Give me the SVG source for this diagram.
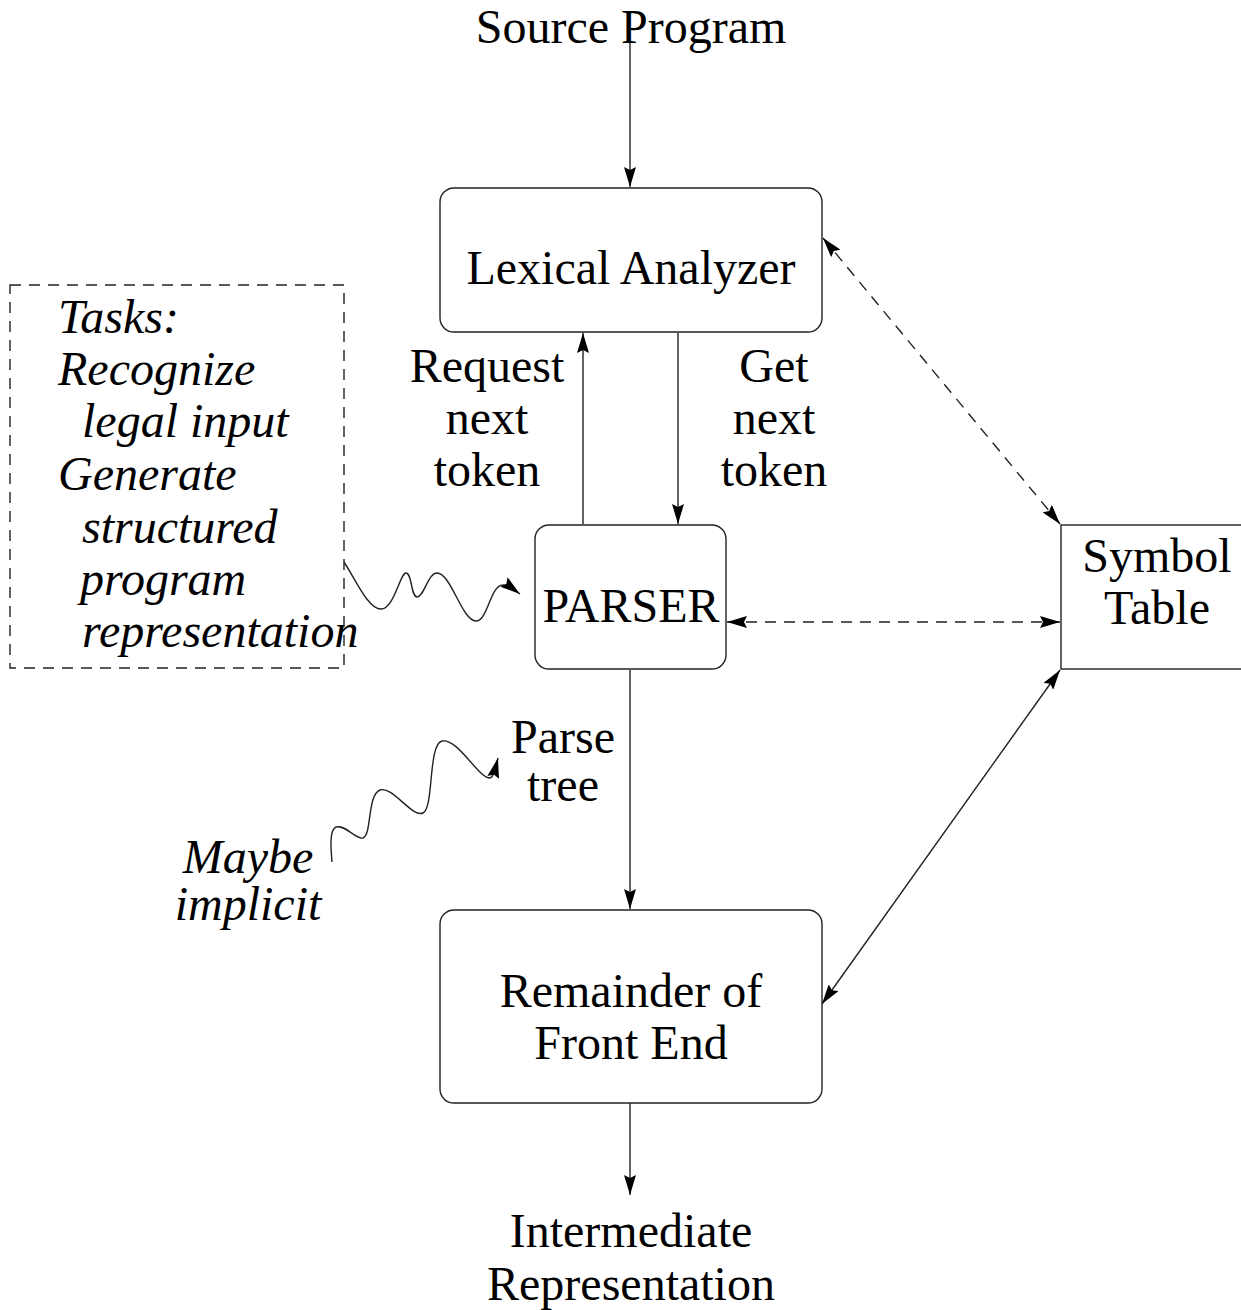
<svg xmlns="http://www.w3.org/2000/svg" width="1241" height="1310" viewBox="0 0 1241 1310">
<style>
text{font-family:"Liberation Serif","Times New Roman",serif;font-size:48px;fill:#000}
.c{text-anchor:middle}
.i{font-style:italic}
.box{fill:#fff;stroke:#222;stroke-width:1.4}
.ln{fill:none;stroke:#222;stroke-width:1.4}
.d{stroke-dasharray:11 8}
</style>
<defs>
<marker id="ah" markerUnits="userSpaceOnUse" markerWidth="22" markerHeight="12" refX="20" refY="6" orient="auto-start-reverse" viewBox="0 0 22 12">
<path d="M0,0 L20,6 L0,12 L3,6 z" fill="#000"/>
</marker>
</defs>
<g id="tasks">
<rect x="10" y="285" width="334" height="383" class="ln d" stroke-dasharray="8 7"/>
<text class="i" x="58" y="333">Tasks:</text>
<text class="i" x="58" y="385">Recognize</text>
<text class="i" x="82" y="437">legal input</text>
<text class="i" x="58" y="490">Generate</text>
<text class="i" x="82" y="543">structured</text>
<text class="i" x="80" y="595">program</text>
<text class="i" x="82" y="647">representation</text>
</g>
<g id="connectors">
<line x1="630" y1="42" x2="630" y2="187" class="ln" marker-end="url(#ah)"/>
<line x1="583" y1="524" x2="583" y2="333" class="ln" marker-end="url(#ah)"/>
<line x1="678" y1="333" x2="678" y2="524" class="ln" marker-end="url(#ah)"/>
<line x1="630" y1="670" x2="630" y2="909" class="ln" marker-end="url(#ah)"/>
<line x1="630" y1="1103" x2="630" y2="1195" class="ln" marker-end="url(#ah)"/>
<line x1="823" y1="238" x2="1060" y2="524" class="ln d" marker-start="url(#ah)" marker-end="url(#ah)"/>
<line x1="727" y1="622" x2="1060" y2="622" class="ln d" marker-start="url(#ah)" marker-end="url(#ah)"/>
<line x1="822" y1="1004" x2="1060" y2="670" class="ln" marker-start="url(#ah)" marker-end="url(#ah)"/>
<path d="M344,562 C356,580 368,609 381,609 C394,609 400,573 406,573 C412,573 411,597 417,597 C424,597 428,573 437,573 C451,573 462,621 476,621 C488,621 490,585 503,585 C507,585 512,588 520,594" class="ln" marker-end="url(#ah)"/>
<path d="M332,862 C331,850 329,830 336,827 C345,824 356,840 363,838 C372,835 367,795 380,790 C393,786 412,818 423,813 C434,808 428,744 442,741 C458,738 478,778 490,778 C493,778 495,770 498,758" class="ln" marker-end="url(#ah)"/>
</g>
<g id="lexical">
<rect x="440" y="188" width="382" height="144" rx="14" class="box"/>
<text class="c" x="631" y="284">Lexical Analyzer</text>
</g>
<g id="parser">
<rect x="535" y="525" width="191" height="144" rx="14" class="box"/>
<text class="c" x="631" y="622">PARSER</text>
</g>
<g id="symbol">
<rect x="1061" y="525" width="190" height="144" class="box"/>
<text class="c" x="1157" y="572">Symbol</text>
<text class="c" x="1157" y="624">Table</text>
</g>
<g id="remainder">
<rect x="440" y="910" width="382" height="193" rx="14" class="box"/>
<text class="c" x="631" y="1007">Remainder of</text>
<text class="c" x="631" y="1059">Front End</text>
</g>
<g id="labels">
<text class="c" x="631" y="43">Source Program</text>
<text class="c" x="487" y="382">Request</text>
<text class="c" x="487" y="434">next</text>
<text class="c" x="487" y="486">token</text>
<text class="c" x="774" y="382">Get</text>
<text class="c" x="774" y="434">next</text>
<text class="c" x="774" y="486">token</text>
<text class="c" x="563" y="753">Parse</text>
<text class="c" x="563" y="801">tree</text>
<text class="c i" x="248" y="873">Maybe</text>
<text class="c i" x="248" y="920">implicit</text>
<text class="c" x="631" y="1247">Intermediate</text>
<text class="c" x="631" y="1300">Representation</text>
</g>
</svg>
